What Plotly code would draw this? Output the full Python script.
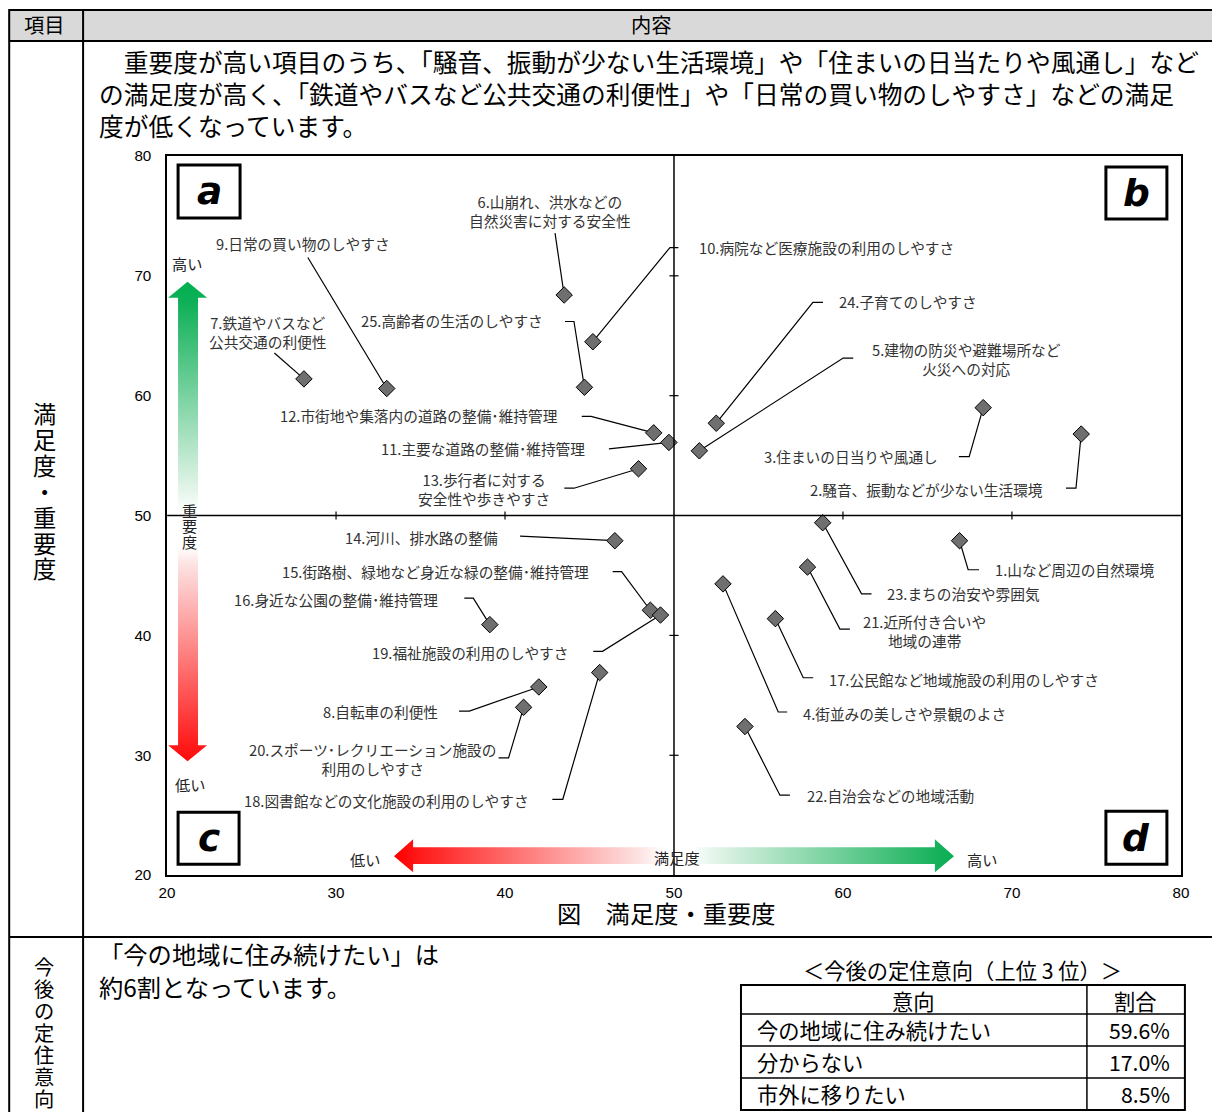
import plotly.graph_objects as go

W, H = 1220, 1120
# the page is photographed with an 8px frame and shrunk back to 1220x1120,
# so layout positions (read in picture pixels) are mapped through that
SX, SY = (W + 16) / W, (H + 16) / H
FS = SX  # font / marker size compensation
JP = "Noto Sans CJK JP"

# --- data -------------------------------------------------------------
item_no = list(range(1, 26))
item_names = [
    "山など周辺の自然環境",
    "騒音、振動などが少ない生活環境",
    "住まいの日当りや風通し",
    "街並みの美しさや景観のよさ",
    "建物の防災や避難場所など<br>火災への対応",
    "山崩れ、洪水などの<br>自然災害に対する安全性",
    "鉄道やバスなど<br>公共交通の利便性",
    "自転車の利便性",
    "日常の買い物のしやすさ",
    "病院など医療施設の利用のしやすさ",
    "主要な道路の整備･維持管理",
    "市街地や集落内の道路の整備･維持管理",
    "歩行者に対する<br>安全性や歩きやすさ",
    "河川、排水路の整備",
    "街路樹、緑地など身近な緑の整備･維持管理",
    "身近な公園の整備･維持管理",
    "公民館など地域施設の利用のしやすさ",
    "図書館などの文化施設の利用のしやすさ",
    "福祉施設の利用のしやすさ",
    "スポーツ･レクリエーション施設の<br>利用のしやすさ",
    "近所付き合いや<br>地域の連帯",
    "自治会などの地域活動",
    "まちの治安や雰囲気",
    "子育てのしやすさ",
    "高齢者の生活のしやすさ",
]
satisfaction = [66.9, 74.1, 68.3, 52.9, 51.5, 43.5, 28.1, 42.0, 33.0, 45.2,
                49.7, 48.8, 47.9, 46.5, 48.6, 39.1, 56.0, 45.6, 49.2, 41.1,
                57.9, 54.2, 58.8, 52.5, 44.7]
importance = [47.9, 56.8, 59.0, 44.3, 55.4, 68.4, 61.4, 35.7, 60.6, 64.5,
              56.1, 56.9, 53.9, 47.9, 42.1, 40.9, 41.4, 36.9, 41.7, 34.0,
              45.7, 32.4, 49.4, 57.7, 60.7]

axis_ticks = [20, 30, 40, 50, 60, 70, 80]
cross_ticks = [30, 40, 60, 70]

intent_labels = ["今の地域に住み続けたい", "分からない", "市外に移りたい"]
intent_share = [59.6, 17.0, 8.5]

# label placement: item -> (x, y, anchor, leader points from label to marker)
label_layout = {
    1: (68.9, 45.5, "left", [(68.05, 45.48), (67.41, 45.48)]),
    2: (71.95, 52.17, "right", [(73.2, 52.28), (73.79, 52.28)]),
    3: (65.74, 54.92, "right", [(66.86, 54.92), (67.47, 54.92)]),
    4: (57.51, 33.5, "left", [(56.7, 33.61), (56.17, 33.61)]),
    5: (67.34, 63.04, "center", [(60.61, 63.14), (60.01, 63.14)]),
    6: (42.66, 75.38, "center", [(42.96, 73.56)]),
    7: (25.98, 65.29, "center", [(26.35, 63.56)]),
    8: (36.15, 33.67, "right", [(37.28, 33.69), (37.89, 33.69)]),
    9: (28.05, 72.67, "center", [(28.33, 71.53)]),
    10: (51.36, 72.33, "left", [(50.26, 72.36), (49.76, 72.36)]),
    11: (44.85, 55.58, "right", [(46.15, 55.56)]),
    12: (43.25, 58.33, "right", [(44.54, 58.28), (45.09, 58.28)]),
    13: (38.76, 52.21, "center", [(43.51, 52.28), (44.08, 52.28)]),
    14: (39.7, 48.17, "right", [(40.89, 48.28)]),
    15: (45.09, 45.33, "right", [(46.37, 45.33), (46.9, 45.33)]),
    16: (36.15, 43.0, "right", [(37.59, 43.11), (38.12, 43.11)]),
    17: (59.05, 36.33, "left", [(58.24, 36.47), (57.65, 36.47)]),
    18: (41.54, 26.25, "right", [(42.8, 26.33), (43.42, 26.33)]),
    19: (43.91, 38.58, "right", [(45.22, 38.67), (45.77, 38.67)]),
    20: (32.13, 29.71, "center", [(39.62, 29.78), (40.21, 29.78)]),
    21: (64.85, 40.38, "center", [(60.41, 40.53), (59.82, 40.53)]),
    22: (57.75, 26.67, "left", [(56.86, 26.67), (56.27, 26.67)]),
    23: (62.49, 43.5, "left", [(61.69, 43.47), (61.1, 43.47)]),
    24: (59.64, 67.83, "left", [(58.82, 67.78), (58.22, 67.78)]),
    25: (42.37, 66.25, "right", [(43.55, 66.19), (44.08, 66.19)]),
}


def px(x):
    return min(max((x * SX - 8) / W, 0), 1)


def py(y):
    return min(max(1 - (y * SY - 8) / H, 0), 1)


fig = go.Figure()

# gradient arrows (importance: vertical, satisfaction: horizontal)
fig.add_trace(go.Scatter(
    x=[21.21, 22.37, 21.83, 21.83, 22.37, 21.21, 20.06, 20.65, 20.65, 20.06, 21.21],
    y=[69.5, 68.17, 68.17, 30.83, 30.83, 29.5, 30.83, 30.83, 68.17, 68.17, 69.5],
    mode="lines", line=dict(width=0), fill="toself",
    fillgradient=dict(type="vertical", start=29.5, stop=69.5, colorscale=[
        [0, "#ff0000"], [0.04, "#ff1414"], [0.42, "#fde0e0"], [0.46, "#ffffff"],
        [0.53, "#ffffff"], [0.58, "#e2f4e8"], [0.96, "#10b058"], [1, "#00b050"]]),
    hoverinfo="skip",
))
fig.add_trace(go.Scatter(
    x=[33.43, 34.56, 34.56, 65.44, 65.44, 66.57, 65.44, 65.44, 34.56, 34.56, 33.43],
    y=[21.58, 23.0, 22.33, 22.33, 23.0, 21.58, 20.25, 20.92, 20.92, 20.25, 21.58],
    mode="lines", line=dict(width=0), fill="toself",
    fillgradient=dict(type="horizontal", start=33.43, stop=66.57, colorscale=[
        [0, "#ff0000"], [0.04, "#ff1a1a"], [0.43, "#fde4e4"], [0.47, "#ffffff"],
        [0.52, "#ffffff"], [0.56, "#e3f4e9"], [0.96, "#12b058"], [1, "#00b050"]]),
    hoverinfo="skip",
))

# leader lines
lx, ly = [], []
for i, no in enumerate(item_no):
    for p in label_layout[no][3]:
        lx.append(p[0])
        ly.append(p[1])
    lx += [satisfaction[i], None]
    ly += [importance[i], None]
fig.add_trace(go.Scatter(x=lx, y=ly, mode="lines",
                         line=dict(color="black", width=1.2), hoverinfo="skip"))

fig.add_trace(go.Scatter(
    x=satisfaction, y=importance, mode="markers",
    marker=dict(symbol="diamond", size=12.5 * FS, color="#6f6f6f",
                line=dict(color="black", width=1)),
    text=item_names,
))

for i, no in enumerate(item_no):
    x, y, anchor, _ = label_layout[no]
    fig.add_annotation(x=x, y=y, text=f"{no}.{item_names[i]}", showarrow=False,
                       xanchor=anchor, yanchor="middle", align="center",
                       font=dict(family=JP, size=14.5 * FS, color="#333333"))

# crosshair at 50/50 with its ticks
shapes = [
    dict(type="line", x0=50, x1=50, y0=20, y1=80, line=dict(color="black", width=1.5)),
    dict(type="line", x0=20, x1=80, y0=50, y1=50, line=dict(color="black", width=1.5)),
]
for t in cross_ticks:
    shapes.append(dict(type="line", x0=t, x1=t, y0=49.67, y1=50.33,
                       line=dict(color="black", width=1.2)))
    shapes.append(dict(type="line", x0=49.73, x1=50.27, y0=t, y1=t,
                       line=dict(color="black", width=1.2)))

# quadrant letter boxes
for letter, (x0, y0, x1, y1) in zip("abcd", [(178, 164, 240, 217), (1106, 166, 1167, 218),
                                               (178, 812, 239, 864), (1106, 811, 1167, 864)]):
    shapes.append(dict(type="rect", xref="paper", yref="paper",
                       x0=px(x0), x1=px(x1), y0=py(y1), y1=py(y0),
                       line=dict(color="black", width=3), fillcolor="white"))
    fig.add_annotation(xref="paper", yref="paper", x=px((x0 + x1) / 2), y=py((y0 + y1) / 2),
                       text=f"<b><i>{letter}</i></b>", showarrow=False,
                       xanchor="center", yanchor="middle",
                       font=dict(family="DejaVu Sans", size=37 * FS, color="black"))


def note(text, x, y, size, anchor="center", color="black"):
    fig.add_annotation(xref="paper", yref="paper", x=px(x), y=py(y), text=text,
                       showarrow=False, xanchor=anchor, yanchor="middle",
                       font=dict(family=JP, size=size * FS, color=color))


# arrow texts
for txt, x, y in [("高い", 187, 262), ("低い", 190, 784), ("低い", 365, 859),
                  ("高い", 982, 859), ("満足度", 677, 857)]:
    note(txt, x, y, 15, color="#222222")
for k, ch in enumerate("重要度"):
    note(ch, 189, 509 + 15.5 * k, 15, color="#222222")

# --- table around the chart -----------------------------------------------
line2 = dict(color="black", width=2)
shapes += [
    dict(type="rect", xref="paper", yref="paper", x0=px(7), x1=px(1220), y0=py(40), y1=py(7),
         line=dict(width=0), fillcolor="#d9d9d9", layer="below"),
    dict(type="line", xref="paper", yref="paper", x0=0.001, x1=1, y0=py(7) - 0.001, y1=py(7) - 0.001, line=line2),
    dict(type="line", xref="paper", yref="paper", x0=0.001, x1=1, y0=py(40), y1=py(40), line=line2),
    dict(type="line", xref="paper", yref="paper", x0=0.001, x1=1, y0=py(937), y1=py(937), line=line2),
    dict(type="line", xref="paper", yref="paper", x0=0.001, x1=0.001, y0=0, y1=py(7), line=line2),
    dict(type="line", xref="paper", yref="paper", x0=px(83), x1=px(83), y0=0, y1=py(7), line=line2),
]

note("項目", 44, 23, 20)
note("内容", 652, 23, 20)
note("　重要度が高い項目のうち、「騒音、振動が少ない生活環境」や「住まいの日当たりや風通し」など", 97, 60, 24.4, "left")
note("の満足度が高く、「鉄道やバスなど公共交通の利便性」や「日常の買い物のしやすさ」などの満足", 97, 92, 24.4, "left")
note("度が低くなっています。", 97, 124, 24.4, "left")
for k, ch in enumerate("満足度・重要度"):
    note(ch, 44, 412 + 26 * k, 23)
note("図　満足度・重要度", 667, 912, 24)

for k, ch in enumerate("今後の定住意向"):
    note(ch, 44, 966 + 22 * k, 20)
note("「今の地域に住み続けたい」は", 97, 953, 24, "left")
note("約6割となっています。", 97, 986, 24, "left")
note("＜今後の定住意向（上位 3 位）＞", 963, 969, 21)

# small intent table
tx0, tx1, tcol = 741, 1185, 1087
rows_y = [985, 1014, 1046, 1078, 1110]
shapes.append(dict(type="rect", xref="paper", yref="paper", x0=px(tx0), x1=px(tx1),
                   y0=py(rows_y[-1]), y1=py(rows_y[0]), line=line2))
shapes.append(dict(type="line", xref="paper", yref="paper", x0=px(tcol), x1=px(tcol),
                   y0=py(rows_y[-1]), y1=py(rows_y[0]), line=dict(color="black", width=1.5)))
for yy in rows_y[1:-1]:
    shapes.append(dict(type="line", xref="paper", yref="paper", x0=px(tx0), x1=px(tx1),
                       y0=py(yy), y1=py(yy), line=dict(color="black", width=1.5)))
note("意向", (tx0 + tcol) / 2, 1000, 21)
note("割合", (tcol + tx1) / 2, 1000, 21)
for k, (lab, val) in enumerate(zip(intent_labels, intent_share)):
    yc = (rows_y[k + 1] + rows_y[k + 2]) / 2
    note(lab, 755, yc, 21, "left")
    note(f"{val:.1f}%", 1172, yc, 21, "right")

fig.update_layout(
    width=W, height=H, margin=dict(l=0, r=0, t=0, b=0),
    paper_bgcolor="white", plot_bgcolor="white", showlegend=False,
    shapes=shapes,
)
fig.update_xaxes(range=[20, 80], domain=[px(167), px(1181)], tickvals=axis_ticks,
                 showgrid=False, zeroline=False, showline=True, mirror=True,
                 linecolor="black", linewidth=1.5, ticks="", ticklabelstandoff=3,
                 tickfont=dict(family="Liberation Sans", size=15 * FS, color="black"))
fig.update_yaxes(range=[20, 80], domain=[py(875), py(155)], tickvals=axis_ticks,
                 showgrid=False, zeroline=False, showline=True, mirror=True,
                 linecolor="black", linewidth=1.5, ticks="", ticklabelstandoff=11,
                 tickfont=dict(family="Liberation Sans", size=15 * FS, color="black"))

fig.write_html(
    "out.html",
    config={"displayModeBar": False},
    post_script="document.documentElement.style.margin='0';document.body.style.margin='0';"
                "document.body.style.overflow='hidden';",
)
